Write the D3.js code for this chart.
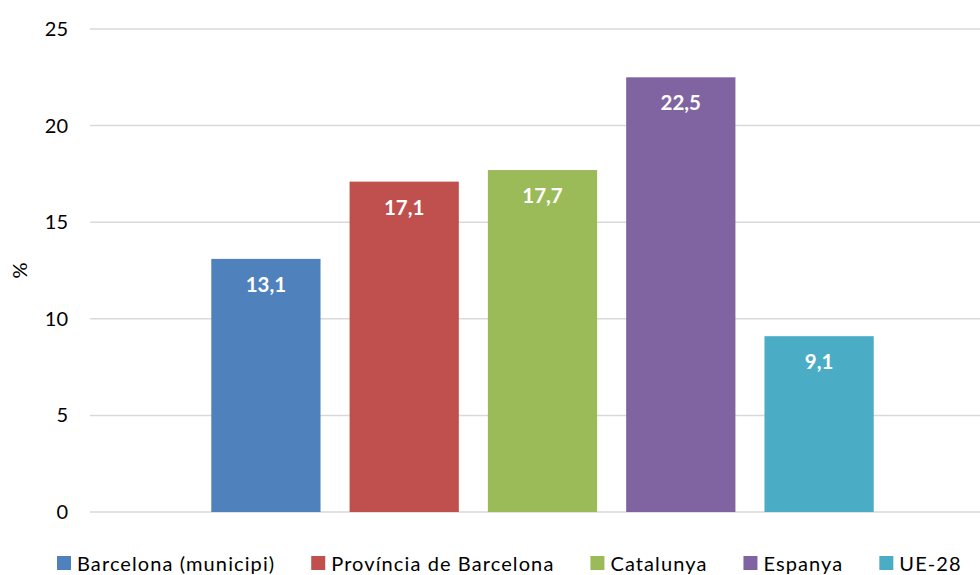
<!DOCTYPE html>
<html>
<head>
<meta charset="utf-8">
<script src="https://cdn.jsdelivr.net/npm/d3@7"></script>
<style>
  body { margin: 0; background: #fff; }
  svg { display: block; font-family: Lato, "Open Sans", sans-serif; }
</style>
</head>
<body>
<div id="chart"></div>
<script>
// data
const series = ["Barcelona (municipi)", "Província de Barcelona", "Catalunya", "Espanya", "UE-28"];
const values = [13.1, 17.1, 17.7, 22.5, 9.1];
const colors = ["#4f81bd", "#c0504d", "#9bbb59", "#8064a2", "#4bacc6"];
const yTicks = [0, 5, 10, 15, 20, 25];

const width = 980, height = 575;
const plot = { left: 90, right: 995, top: 29, bottom: 512 };

const svg = d3.select("#chart").append("svg")
  .attr("width", width)
  .attr("height", height);

const y = d3.scaleLinear().domain([0, 25]).range([plot.bottom, plot.top]);
const x = d3.scaleBand().domain(series)
  .range([plot.left, plot.right])
  .paddingInner(0.21)
  .paddingOuter(0.877);

// gridlines
svg.append("g").selectAll("line")
  .data(yTicks)
  .join("line")
  .attr("x1", plot.left).attr("x2", plot.right)
  .attr("y1", d => y(d)).attr("y2", d => y(d))
  .attr("stroke", "#d9d9d9")
  .attr("stroke-width", 1.5);

// y axis labels
const yAxis = svg.append("g")
  .attr("transform", `translate(${plot.left},0)`)
  .call(d3.axisLeft(y).tickValues(yTicks).tickSize(0).tickPadding(22));
yAxis.select(".domain").remove();
yAxis.selectAll("text")
  .attr("font-family", "Lato, sans-serif")
  .attr("font-size", 20)
  .attr("fill", "#000");

svg.append("text")
  .attr("transform", `translate(27,${(plot.top + plot.bottom) / 2}) rotate(-90)`)
  .attr("text-anchor", "middle")
  .attr("font-size", 20)
  .text("%");

// bars
svg.append("g").selectAll("rect")
  .data(series)
  .join("rect")
  .attr("x", d => x(d))
  .attr("width", x.bandwidth())
  .attr("y", (d, i) => y(values[i]))
  .attr("height", (d, i) => y(0) - y(values[i]))
  .attr("fill", (d, i) => colors[i]);

// value labels
const fmt = v => d3.format(".1f")(v).replace(".", ",");
svg.append("g").selectAll("text")
  .data(series)
  .join("text")
  .attr("x", d => x(d) + x.bandwidth() / 2)
  .attr("y", (d, i) => y(values[i]) + 33)
  .attr("text-anchor", "middle")
  .attr("font-size", 20.5)
  .attr("font-weight", "bold")
  .attr("fill", "#fff")
  .text((d, i) => fmt(values[i]));

// legend
const legend = svg.append("g");
let lx = 57;
series.forEach((s, i) => {
  const item = legend.append("g").attr("transform", `translate(${lx},0)`);
  item.append("rect")
    .attr("x", 0).attr("y", 556)
    .attr("width", 14).attr("height", 14)
    .attr("fill", colors[i]);
  const t = item.append("text")
    .attr("x", 20).attr("y", 571)
    .attr("font-size", 20)
    .attr("letter-spacing", 1.1)
    .attr("fill", "#000")
    .text(s);
  lx += 20 + t.node().getComputedTextLength() + 36;
});
</script>
</body>
</html>
